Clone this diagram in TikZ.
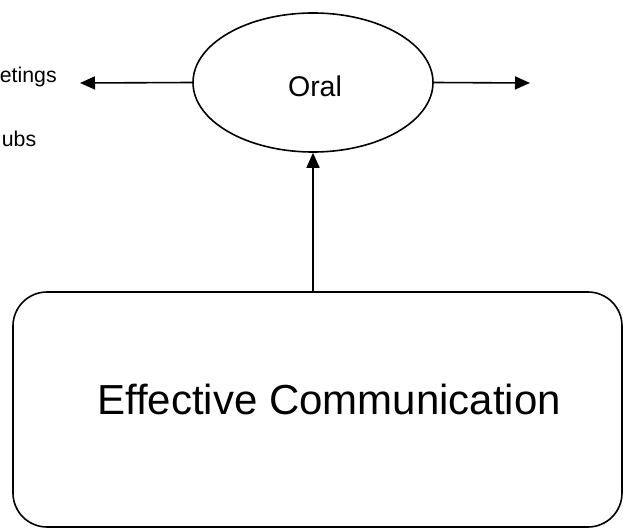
\documentclass[tikz,border=0pt]{standalone}
\usepackage{fontspec}
\setmainfont{Liberation Sans}
\usetikzlibrary{arrows.meta,shapes.geometric}
\begin{document}
\begin{tikzpicture}[x=1pt,y=-1pt,
  line width=1.6pt,
  link/.style={-{Triangle[length=15pt,width=13pt]}},
  oval/.style={draw,ellipse,inner sep=0pt,minimum width=240pt,minimum height=139pt},
  bigbox/.style={draw,rectangle,rounded corners=34pt,inner sep=0pt,
    minimum width=609pt,minimum height=235pt},
  sidelabel/.style={inner sep=0pt,anchor=base east,font=\fontsize{21.3}{26}\selectfont}]
  \useasboundingbox (0,0) rectangle (623,529);
  \clip (0,0) rectangle (623,529);

  % central oval and the main box below it
  \node[oval] (oral) at (313,82.5) {};
  \node[inner sep=0pt,anchor=base,font=\fontsize{28.5}{34}\selectfont] (oraltext) at (315,97) {Oral};
  \node[bigbox] (ec) at (317.5,409.5) {};
  \node[inner sep=0pt,anchor=base,font=\fontsize{42}{50}\selectfont] (ectext) at (329,414) {Effective Communication};

  % side labels
  \node[sidelabel] (meet) at (57.5,83) {etings};
  \node[sidelabel] (clubs) at (37,147) {ubs};

  % arrow ends
  \coordinate (lefttip) at (80,83);
  \coordinate (righttip) at (530,83);

  % connectors
  \draw[link] (oral.west) -- (lefttip);
  \draw[link] (oral.east) -- (righttip);
  \draw[link] (ec.north -| oral.south) -- (oral.south);
\end{tikzpicture}
\end{document}
